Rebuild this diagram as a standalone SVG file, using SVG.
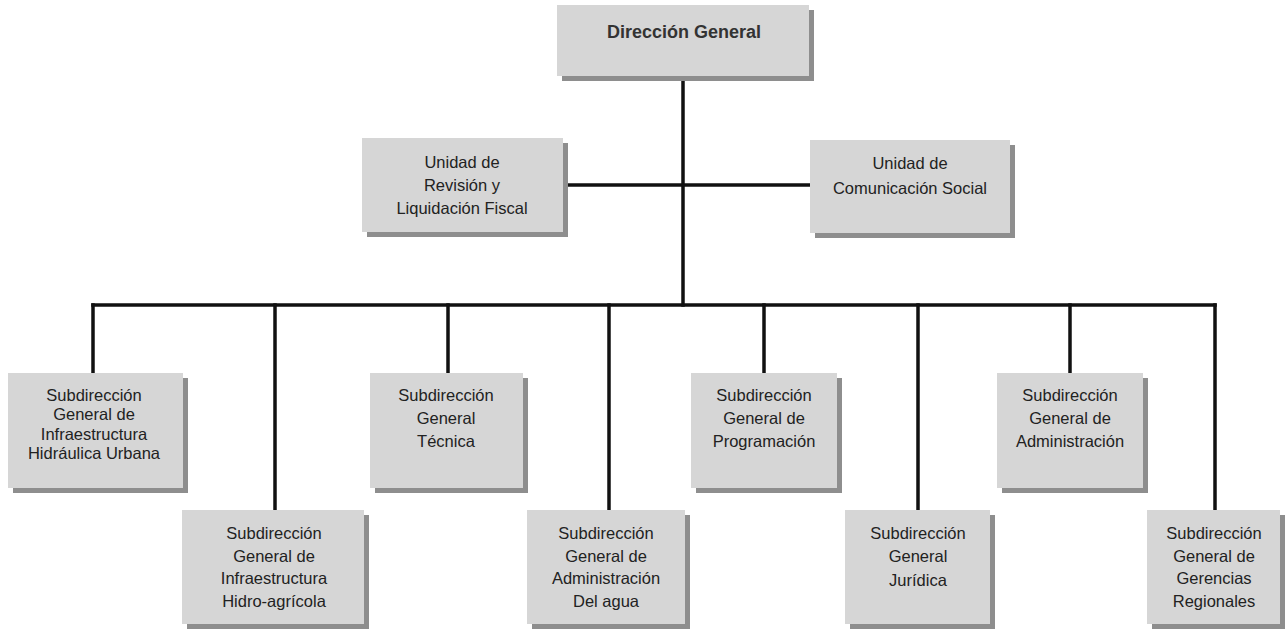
<svg xmlns="http://www.w3.org/2000/svg" width="1286" height="629" viewBox="0 0 1286 629">
<style>
.box{fill:#d6d6d6}
.sh{fill:#8e8e8e}
.t{font-family:"Liberation Sans",Arial,sans-serif;font-size:16.5px;fill:#222;text-anchor:middle}
.tb{font-family:"Liberation Sans",Arial,sans-serif;font-size:18px;font-weight:bold;fill:#333;text-anchor:middle}
.ln{stroke:#111;stroke-width:3.5;fill:none;stroke-linecap:square}
</style>
<rect width="1286" height="629" fill="#ffffff"/>
<g id="connectors">
<line class="ln" x1="683" y1="80" x2="683" y2="305"/>
<line class="ln" x1="565" y1="185" x2="810" y2="185"/>
<line class="ln" x1="93" y1="305" x2="1215" y2="305"/>
<line class="ln" x1="93" y1="305" x2="93" y2="373"/>
<line class="ln" x1="275" y1="305" x2="275" y2="510"/>
<line class="ln" x1="448" y1="305" x2="448" y2="373"/>
<line class="ln" x1="609" y1="305" x2="609" y2="510"/>
<line class="ln" x1="764" y1="305" x2="764" y2="373"/>
<line class="ln" x1="918" y1="305" x2="918" y2="510"/>
<line class="ln" x1="1070" y1="305" x2="1070" y2="373"/>
<line class="ln" x1="1215" y1="305" x2="1215" y2="510"/>
</g>
<g id="direccion-general">
<rect class="sh" x="562" y="10" width="252" height="71"/>
<rect class="box" x="557" y="5" width="252" height="71"/>
<text class="tb" x="684" y="38">Dirección General</text>
</g>
<g id="unidad-revision">
<rect class="sh" x="367" y="143" width="201" height="94"/>
<rect class="box" x="362" y="138" width="201" height="94"/>
<text class="t" x="462" y="168">Unidad de</text>
<text class="t" x="462" y="191">Revisión y</text>
<text class="t" x="462" y="214">Liquidación Fiscal</text>
</g>
<g id="unidad-comunicacion">
<rect class="sh" x="815" y="145" width="200" height="93"/>
<rect class="box" x="810" y="140" width="200" height="93"/>
<text class="t" x="910" y="169">Unidad de</text>
<text class="t" x="910" y="194">Comunicación Social</text>
</g>
<g id="sg-urbana">
<rect class="sh" x="13" y="378" width="175" height="115"/>
<rect class="box" x="8" y="373" width="175" height="115"/>
<text class="t" x="94" y="401">Subdirección</text>
<text class="t" x="94" y="420">General de</text>
<text class="t" x="94" y="440">Infraestructura</text>
<text class="t" x="94" y="459">Hidráulica Urbana</text>
</g>
<g id="sg-hidroagricola">
<rect class="sh" x="187" y="515" width="182" height="114"/>
<rect class="box" x="182" y="510" width="182" height="114"/>
<text class="t" x="274" y="539">Subdirección</text>
<text class="t" x="274" y="562">General de</text>
<text class="t" x="274" y="584">Infraestructura</text>
<text class="t" x="274" y="607">Hidro-agrícola</text>
</g>
<g id="sg-tecnica">
<rect class="sh" x="375" y="378" width="153" height="115"/>
<rect class="box" x="370" y="373" width="153" height="115"/>
<text class="t" x="446" y="401">Subdirección</text>
<text class="t" x="446" y="424">General</text>
<text class="t" x="446" y="447">Técnica</text>
</g>
<g id="sg-adm-agua">
<rect class="sh" x="532" y="515" width="158" height="114"/>
<rect class="box" x="527" y="510" width="158" height="114"/>
<text class="t" x="606" y="539">Subdirección</text>
<text class="t" x="606" y="562">General de</text>
<text class="t" x="606" y="584">Administración</text>
<text class="t" x="606" y="607">Del agua</text>
</g>
<g id="sg-programacion">
<rect class="sh" x="696" y="378" width="146" height="115"/>
<rect class="box" x="691" y="373" width="146" height="115"/>
<text class="t" x="764" y="401">Subdirección</text>
<text class="t" x="764" y="424">General de</text>
<text class="t" x="764" y="447">Programación</text>
</g>
<g id="sg-juridica">
<rect class="sh" x="850" y="515" width="145" height="114"/>
<rect class="box" x="845" y="510" width="145" height="114"/>
<text class="t" x="918" y="539">Subdirección</text>
<text class="t" x="918" y="562">General</text>
<text class="t" x="918" y="586">Jurídica</text>
</g>
<g id="sg-administracion">
<rect class="sh" x="1002" y="378" width="146" height="115"/>
<rect class="box" x="997" y="373" width="146" height="115"/>
<text class="t" x="1070" y="401">Subdirección</text>
<text class="t" x="1070" y="424">General de</text>
<text class="t" x="1070" y="447">Administración</text>
</g>
<g id="sg-gerencias">
<rect class="sh" x="1152" y="515" width="133" height="114"/>
<rect class="box" x="1147" y="510" width="133" height="114"/>
<text class="t" x="1214" y="539">Subdirección</text>
<text class="t" x="1214" y="562">General de</text>
<text class="t" x="1214" y="584">Gerencias</text>
<text class="t" x="1214" y="607">Regionales</text>
</g>
</svg>
